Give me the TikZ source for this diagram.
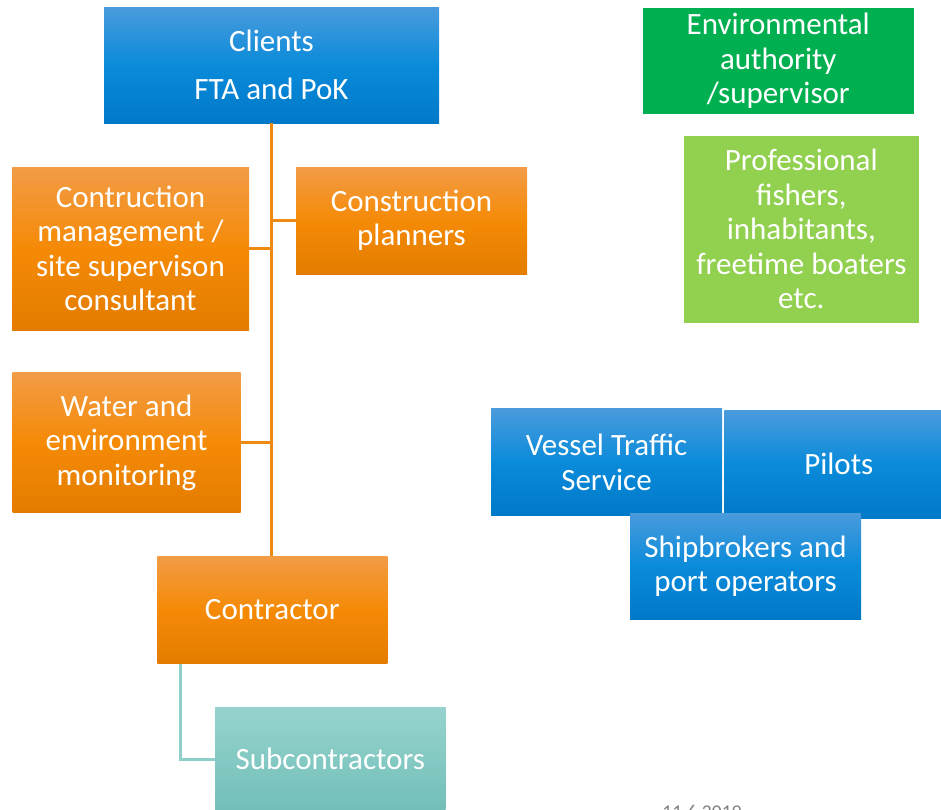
\documentclass[tikz,border=0pt]{standalone}
\usepackage{fontspec}
\setmainfont{Carlito}
\definecolor{bluetop}{HTML}{4A9BDC}
\definecolor{bluemid}{HTML}{0A8BDA}
\definecolor{bluebot}{HTML}{0079C8}
\definecolor{orgtop}{HTML}{F29C47}
\definecolor{orgmid}{HTML}{F58A06}
\definecolor{orgbot}{HTML}{E37C00}
\definecolor{tealtop}{HTML}{97D3CE}
\definecolor{tealbot}{HTML}{72BFB8}
\definecolor{darkgreen}{HTML}{00B050}
\definecolor{lightgreen}{HTML}{92D050}
\definecolor{orgline}{HTML}{EF8A10}
\definecolor{tealline}{HTML}{8ECFCA}
\definecolor{dategray}{HTML}{808080}
\tikzset{
  box/.style={rectangle, inner sep=0pt, outer sep=0pt, align=center, text=white,
    font=\fontsize{31}{34.5}\selectfont},
  bluebox/.style={box, top color=bluetop, bottom color=bluebot, middle color=bluemid},
  orangebox/.style={box, top color=orgtop, bottom color=orgbot, middle color=orgmid},
  tealbox/.style={box, top color=tealtop, bottom color=tealbot, middle color=tealtop!50!tealbot},
  dgbox/.style={box, fill=darkgreen},
  lgbox/.style={box, fill=lightgreen},
  orgconn/.style={draw=orgline, line width=3.5pt},
  tealconn/.style={draw=tealline, line width=3pt},
}
\begin{document}
\begin{tikzpicture}[x=1pt,y=-1pt]
\useasboundingbox (0,0) rectangle (941,809);
\node[bluebox, minimum width=335pt, minimum height=116pt] (clients) at (271.5,65) {Clients\\[13.5pt]FTA and PoK};
\node[orangebox, minimum width=237pt, minimum height=163pt] (cm) at (130.5,248.5) {Contruction\\management /\\site supervison\\consultant};
\node[orangebox, minimum width=231pt, minimum height=107pt] (cp) at (411.5,220.5) {Construction\\planners};
\node[orangebox, minimum width=228pt, minimum height=140pt] (water) at (126.5,442.7) {Water and\\environment\\monitoring};
\node[orangebox, minimum width=230pt, minimum height=107.5pt] (contractor) at (272.3,609.8) {Contractor};
\node[tealbox, minimum width=230.5pt, minimum height=104pt] (sub) at (330.3,759) {Subcontractors};
\node[dgbox, minimum width=271pt, minimum height=106pt] (env) at (778.3,60.8) {Environmental\\authority\\/supervisor};
\node[lgbox, minimum width=234.5pt, minimum height=187pt] (prof) at (801.3,229.3) {Professional\\fishers,\\inhabitants,\\freetime boaters\\etc.};
\node[bluebox, minimum width=231pt, minimum height=107pt] (vts) at (606.5,462.3) {Vessel Traffic\\Service};
\node[bluebox, minimum width=229pt, minimum height=108pt] (pilots) at (838.8,464) {Pilots};
\node[bluebox, minimum width=231pt, minimum height=106pt] (ship) at (745.5,566) {Shipbrokers and\\port operators};
% connectors
\draw[orgconn] (clients.south) -- (clients.south |- contractor.north);
\draw[orgconn] (cp.west) -- (cp.west -| clients.south);
\draw[orgconn] (cm.east) -- (cm.east -| clients.south);
\draw[orgconn] (water.east) -- (water.east -| clients.south);
\draw[tealconn] ([xshift=-92pt]contractor.south) |- (sub.west);
% date (cut off at the bottom edge, as in the reference)
\node[anchor=base, text=dategray, font=\fontsize{19.5}{22}\selectfont, inner sep=0pt] (date) at (702,818) {11.6.2019};
\end{tikzpicture}
\end{document}
